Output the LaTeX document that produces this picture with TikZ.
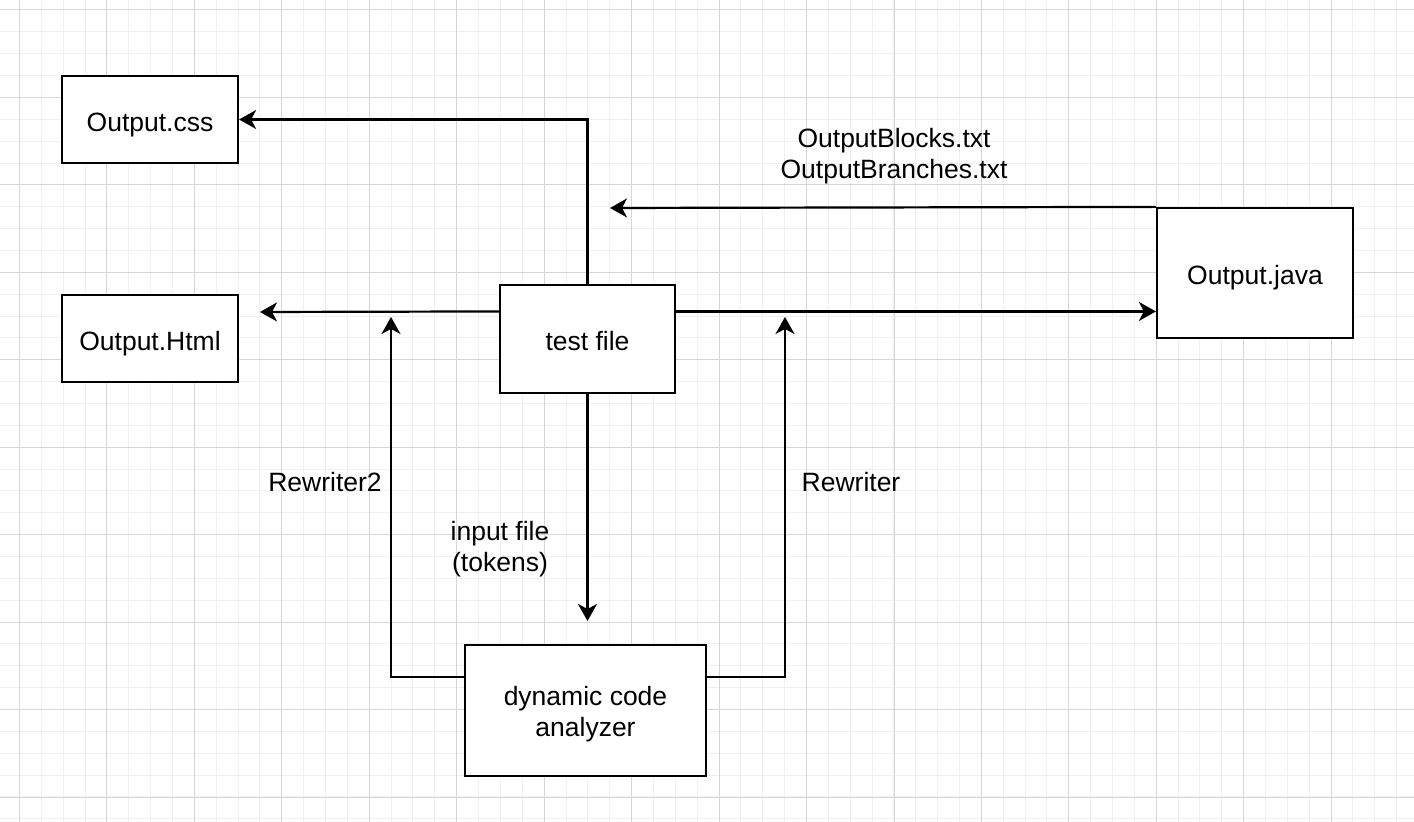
\documentclass[tikz,border=0pt]{standalone}
\usepackage{fontspec}
\setmainfont{Liberation Sans}
\usetikzlibrary{positioning,arrows.meta,calc}

\begin{document}
\begin{tikzpicture}
[x=0.5pt, y=-0.5pt,
 every node/.style={font=\fontsize{13.25}{15.5}\selectfont},
 box/.style={draw, line width=1.1pt, fill=white, inner sep=0pt, align=center,
   text height=12pt, text depth=0pt},
 arr/.style={line width=1.1pt, -{Stealth[length=8.5pt,width=9.5pt,inset=2.5pt]}},
 lbl/.style={align=center, inner sep=0pt},
 gridminor/.style={line width=0.5pt, black!6},
 gridmajor/.style={line width=0.5pt, black!16}]
\useasboundingbox (0,0) rectangle (1414,822);
\begin{scope}
\clip (0,0) rectangle (1414,822);
\fill[white] (0,0) rectangle (1414,822);
\foreach \k in {0,...,65} \draw[gridminor] ({-2.36+21.86*\k},0) -- ++(0,822);
\foreach \k in {0,...,38} \draw[gridminor] (0,{-11.86+21.86*\k}) -- ++(1414,0);
\foreach \k in {0,...,16} \draw[gridmajor] ({19.5+87.45*\k},0) -- ++(0,822);
\foreach \k in {0,...,9} \draw[gridmajor] (0,{10+87.45*\k}) -- ++(1414,0);
\end{scope}

\node[box, minimum width=88pt, minimum height=43.5pt] (css) at (150,119.5) {Output.css};
\node[box, minimum width=88pt, minimum height=43.5pt] (html) at (150,338.5) {Output.Html};
\node[box, minimum width=87.5pt, minimum height=54pt] (test) at (587.5,339) {test file};
\node[box, minimum width=98pt, minimum height=65pt] (java) at (1255,273) {Output.java};
\node[box, minimum width=120.5pt, minimum height=65.5pt, text height=26.3pt, text depth=0pt]
  (dca) at (585.5,710.5) {dynamic code\\analyzer};

\node[lbl] (txts) at (894,156) {OutputBlocks.txt\\OutputBranches.txt};
\node[lbl] (rw2) at (325,482) {Rewriter2};
\node[lbl] (rw) at (851,482) {Rewriter};
\node[lbl] (inp) at (500,549.5) {input file\\(tokens)};

\coordinate (jin) at (610,208);
\coordinate (hin) at (260,312);
\coordinate (tin) at (587.5,621);
\coordinate (r2in) at (391,317);
\coordinate (r1in) at (785,317);
\coordinate (tl) at ($(test.north west)!.25!(test.south west)$);
\coordinate (dl) at ($(dca.north west)!.25!(dca.south west)$);
\coordinate (dr) at ($(dca.north east)!.25!(dca.south east)$);

\draw[arr] (test.north) |- (css.east);
\draw[arr] (java.north west) -- (jin);
\draw[arr] (tl) -- (hin);
\draw[arr] (test.east |- tl) -- (java.west |- tl);
\draw[arr] (test.south) -- (tin);
\draw[arr] (dl) -| (r2in);
\draw[arr] (dr) -| (r1in);
\end{tikzpicture}
\end{document}
